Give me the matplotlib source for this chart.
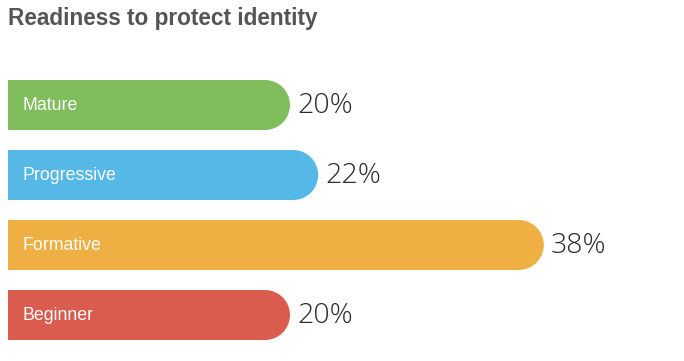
import matplotlib
matplotlib.use("Agg")
import matplotlib.pyplot as plt
from matplotlib.patches import Ellipse
from matplotlib import font_manager

categories = ["Mature", "Progressive", "Formative", "Beginner"]
values = [20, 22, 38, 20]
labels = ["20%", "22%", "38%", "20%"]
colors = ["#80bd5c", "#55b8e7", "#efaf43", "#d95c4e"]
title = "Readiness to protect identity"

W, H, DPI = 684, 361, 100
fig = plt.figure(figsize=(W / DPI, H / DPI), dpi=DPI)
fig.patch.set_facecolor("white")

px_per_unit = 14.1
left_px = 8
ax = fig.add_axes([left_px / W, 0, (W - left_px) / W, 1])
ax.set_xlim(0, (W - left_px) / px_per_unit)
row_px = 70
first_center = 105
ax.set_ylim(3 + (H - 315) / row_px, -first_center / row_px)
ax.axis("off")

bar_h_px = 50
bh = bar_h_px / row_px
rx = (bar_h_px / 2) / px_per_unit

avail = {f.name for f in font_manager.fontManager.ttflist}
def pick(names):
    for n in names:
        if n in avail:
            return n
    return "DejaVu Sans"

fam_sans = pick(["Liberation Sans", "Roboto", "DejaVu Sans"])
fam_light = pick(["Open Sans", "Roboto", "Lato", "DejaVu Sans"])

for i, (cat, v, lab, c) in enumerate(zip(categories, values, labels, colors)):
    ax.barh(i, v - rx, height=bh, left=0, color=c, edgecolor="none")
    ax.add_patch(Ellipse((v - rx, i), 2 * rx, bh, facecolor=c, edgecolor="none"))
    ax.text(15 / px_per_unit, i + 0.01, cat, color="white", fontsize=12.8,
            va="center", ha="left", family=fam_sans)
    ax.text(v + 7 / px_per_unit, i + 0.01, lab, color="#2b2b2b", fontsize=20.5,
            va="center", ha="left", family=fam_light, fontweight="light")

fig.text(8 / W, 1 - 19 / H, title, color="#555555", fontsize=16.3,
         fontweight="bold", va="center", ha="left", family=fam_sans)

fig.savefig("out.png", dpi=DPI, facecolor="white")
